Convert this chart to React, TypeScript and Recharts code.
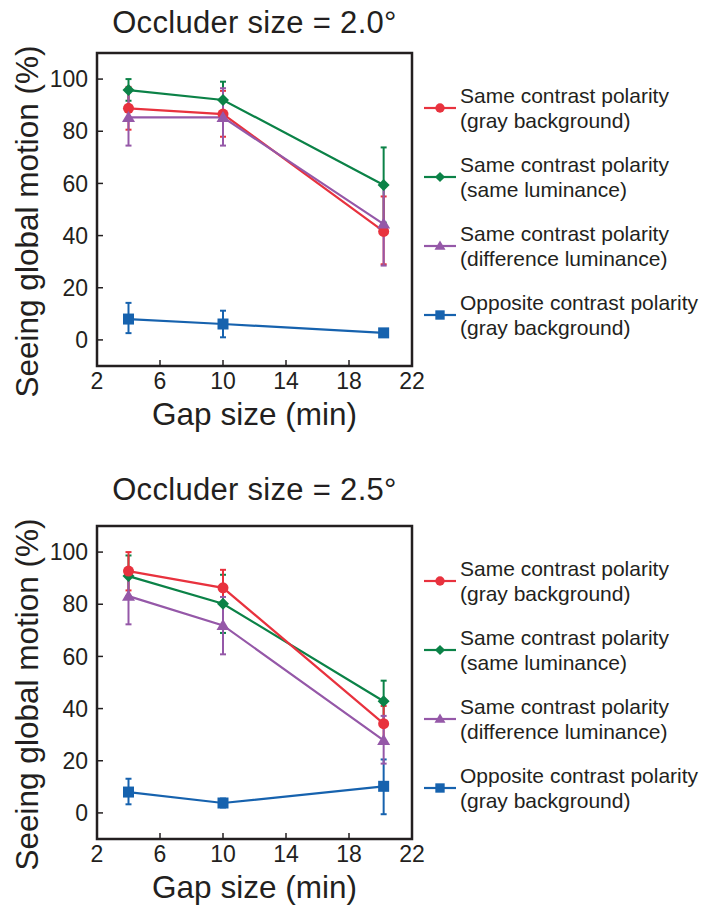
import { LineChart, Line, XAxis, YAxis, ErrorBar, ReferenceArea, Legend } from "recharts";

// gap sizes (min) on the x axis
const gapSizes = [4, 10, 20.2];
const xTicks = [2, 6, 10, 14, 18, 22];
const yTicks = [0, 20, 40, 60, 80, 100];

// Occluder size = 2.0°  (mean, upper bar end, lower bar end)
const sameGray20 = [88.8, 86.6, 41.6];
const sameGray20Hi = [97, 95.5, 55];
const sameGray20Lo = [80.6, 77.9, 29];
const sameLum20 = [95.8, 92, 59.4];
const sameLum20Hi = [100, 99, 73.8];
const sameLum20Lo = [91.7, 85, 45];
const diffLum20 = [85.3, 85.3, 44.4];
const diffLum20Hi = [96, 96.5, 60];
const diffLum20Lo = [74.5, 74.5, 28.5];
const opposite20 = [8.0, 6.1, 2.7];
const opposite20Hi = [14.2, 11.2, 3.5];
const opposite20Lo = [2.6, 1.0, 1.9];

// Occluder size = 2.5°
const sameGray25 = [92.7, 86.3, 34.2];
const sameGray25Hi = [100, 93.2, 41];
const sameGray25Lo = [85.3, 79.4, 27.5];
const sameLum25 = [90.8, 80.2, 42.8];
const sameLum25Hi = [98.7, 91.3, 50.7];
const sameLum25Lo = [83, 69, 35];
const diffLum25 = [83.1, 71.9, 27.8];
const diffLum25Hi = [94, 82.8, 37.2];
const diffLum25Lo = [72.3, 60.8, 18.9];
const opposite25 = [8.0, 3.8, 10.2];
const opposite25Hi = [13.1, 5.5, 20.5];
const opposite25Lo = [3.3, 2.1, -0.5];

const INK = "#231f20";
const FONT = "'Liberation Sans', Arial, Helvetica, sans-serif";

type Shape = "circle" | "diamond" | "triangle" | "square";

const seriesInfo: { key: string; name: string; sub: string; color: string; shape: Shape }[] = [
    { key: "opposite", name: "Opposite contrast polarity", sub: "(gray background)", color: "#1662ae", shape: "square" },
    { key: "sameLum", name: "Same contrast polarity", sub: "(same luminance)", color: "#0b8247", shape: "diamond" },
    { key: "sameGray", name: "Same contrast polarity", sub: "(gray background)", color: "#e8323e", shape: "circle" },
    { key: "diffLum", name: "Same contrast polarity", sub: "(difference luminance)", color: "#9558a8", shape: "triangle" },
];

const legendOrder = ["sameGray", "sameLum", "diffLum", "opposite"];

type Triple = [number[], number[], number[]];

function buildRows(sets: Record<string, Triple>) {
    return gapSizes.map((gap, i) => {
        const row: Record<string, number | number[]> = { gap };
        Object.keys(sets).forEach((k) => {
            const [mean, hi, lo] = sets[k];
            row[k] = mean[i];
            row[k + "Err"] = [mean[i] - lo[i], hi[i] - mean[i]];
        });
        return row;
    });
}

const rows20 = buildRows({
    sameGray: [sameGray20, sameGray20Hi, sameGray20Lo],
    sameLum: [sameLum20, sameLum20Hi, sameLum20Lo],
    diffLum: [diffLum20, diffLum20Hi, diffLum20Lo],
    opposite: [opposite20, opposite20Hi, opposite20Lo],
});

const rows25 = buildRows({
    sameGray: [sameGray25, sameGray25Hi, sameGray25Lo],
    sameLum: [sameLum25, sameLum25Hi, sameLum25Lo],
    diffLum: [diffLum25, diffLum25Hi, diffLum25Lo],
    opposite: [opposite25, opposite25Hi, opposite25Lo],
});

function Marker({ cx, cy, shape, color, s = 1 }: { cx: number; cy: number; shape: Shape; color: string; s?: number }) {
    if (shape === "circle") return <circle cx={cx} cy={cy} r={5.5 * s} fill={color} />;
    if (shape === "diamond") {
        const h = 6 * s;
        return <path d={`M${cx},${cy - h}L${cx + h},${cy}L${cx},${cy + h}L${cx - h},${cy}Z`} fill={color} />;
    }
    if (shape === "triangle") {
        const w = 6.5 * s;
        return <path d={`M${cx},${cy - 6.5 * s}L${cx + w},${cy + 4.5 * s}L${cx - w},${cy + 4.5 * s}Z`} fill={color} />;
    }
    const h = 5.5 * s;
    return <rect x={cx - h} y={cy - h} width={2 * h} height={2 * h} fill={color} />;
}

function LegendBox() {
    return (
        <div style={{ fontFamily: FONT, color: INK, fontSize: 21, lineHeight: "25px" }}>
            {legendOrder.map((k) => {
                const s = seriesInfo.find((d) => d.key === k)!;
                return (
                    <div key={k} style={{ display: "flex", alignItems: "center", marginBottom: 19 }}>
                        <svg width={32} height={20} style={{ flex: "none" }}>
                            <line x1={0} x2={32} y1={10} y2={10} stroke={s.color} strokeWidth={2.2} />
                            <Marker cx={16} cy={10} shape={s.shape} color={s.color} s={0.85} />
                        </svg>
                        <div style={{ marginLeft: 4, whiteSpace: "nowrap" }}>
                            <div>{s.name}</div>
                            <div>{s.sub}</div>
                        </div>
                    </div>
                );
            })}
        </div>
    );
}

function Panel({ title, rows, titleTop }: { title: string; rows: Record<string, number | number[]>[]; titleTop: number }) {
    return (
        <div style={{ position: "relative", width: 718, height: 473 }}>
            <div
                style={{
                    position: "absolute",
                    left: 57,
                    width: 395,
                    top: titleTop,
                    textAlign: "center",
                    fontFamily: FONT,
                    fontSize: 31,
                    letterSpacing: 0.3,
                    lineHeight: "30px",
                    color: INK,
                    whiteSpace: "nowrap",
                }}
            >
                {title}
            </div>
            <LineChart
                width={718}
                height={450}
                data={rows}
                margin={{ top: 53, right: 306, left: 0, bottom: 0 }}
                style={{ position: "absolute", left: 0, top: 0 }}
            >
                <XAxis
                    dataKey="gap"
                    type="number"
                    domain={[2, 22]}
                    ticks={xTicks}
                    height={84}
                    axisLine={false}
                    tickSize={-6}
                    tickMargin={13}
                    tickLine={{ stroke: INK, strokeWidth: 1.5 }}
                    tick={{ fill: INK, fontSize: 23, fontFamily: FONT }}
                    interval={0}
                    label={{
                        value: "Gap size (min)",
                        content: (p: any) => {
                            const vb = p.viewBox;
                            return (
                                <text x={vb.x + vb.width / 2} y={vb.y + 59} textAnchor="middle" fontSize={31.5} fontFamily={FONT} fill={INK}>
                                    Gap size (min)
                                </text>
                            );
                        },
                    }}
                />
                <YAxis
                    type="number"
                    domain={[-10, 110]}
                    ticks={yTicks}
                    width={97}
                    axisLine={false}
                    tickSize={-6}
                    tickMargin={15}
                    tickLine={{ stroke: INK, strokeWidth: 1.5 }}
                    tick={{ fill: INK, fontSize: 23, fontFamily: FONT }}
                    interval={0}
                    allowDataOverflow
                    label={{
                        value: "Seeing global motion (%)",
                        content: (p: any) => {
                            const vb = p.viewBox;
                            const cx = vb.x + 27;
                            const cy = vb.y + vb.height / 2 + 12;
                            return (
                                <text
                                    x={cx}
                                    y={cy}
                                    transform={`rotate(-90 ${cx} ${cy})`}
                                    textAnchor="middle"
                                    dominantBaseline="central"
                                    fontSize={31.5}
                                    fontFamily={FONT}
                                    fill={INK}
                                >
                                    Seeing global motion (%)
                                </text>
                            );
                        },
                    }}
                />
                <ReferenceArea x1={2} x2={22} y1={-10} y2={110} fill="none" stroke={INK} strokeWidth={2.5} ifOverflow="visible" />
                {seriesInfo.map((s) => (
                    <Line
                        key={s.key}
                        type="linear"
                        dataKey={s.key}
                        name={s.name}
                        stroke={s.color}
                        strokeWidth={2.2}
                        isAnimationActive={false}
                        dot={(p: any) => (
                            <Marker key={`${s.key}-${p.index}`} cx={p.cx} cy={p.cy} shape={s.shape} color={s.color} />
                        )}
                        activeDot={false}
                    >
                        <ErrorBar dataKey={s.key + "Err"} direction="y" width={3} stroke={s.color} strokeWidth={2} isAnimationActive={false} />
                    </Line>
                ))}
                <Legend
                    layout="horizontal"
                    verticalAlign="middle"
                    align="center"
                    content={() => <LegendBox />}
                    wrapperStyle={{ position: "absolute", left: 424, top: 83, width: 294 }}
                />
            </LineChart>
        </div>
    );
}

export default function App() {
    return (
        <div style={{ position: "absolute", left: 0, top: 0, width: 718, height: 913, background: "#fff" }}>
            <Panel title="Occluder size = 2.0°" rows={rows20} titleTop={8} />
            <Panel title="Occluder size = 2.5°" rows={rows25} titleTop={2} />
        </div>
    );
}
